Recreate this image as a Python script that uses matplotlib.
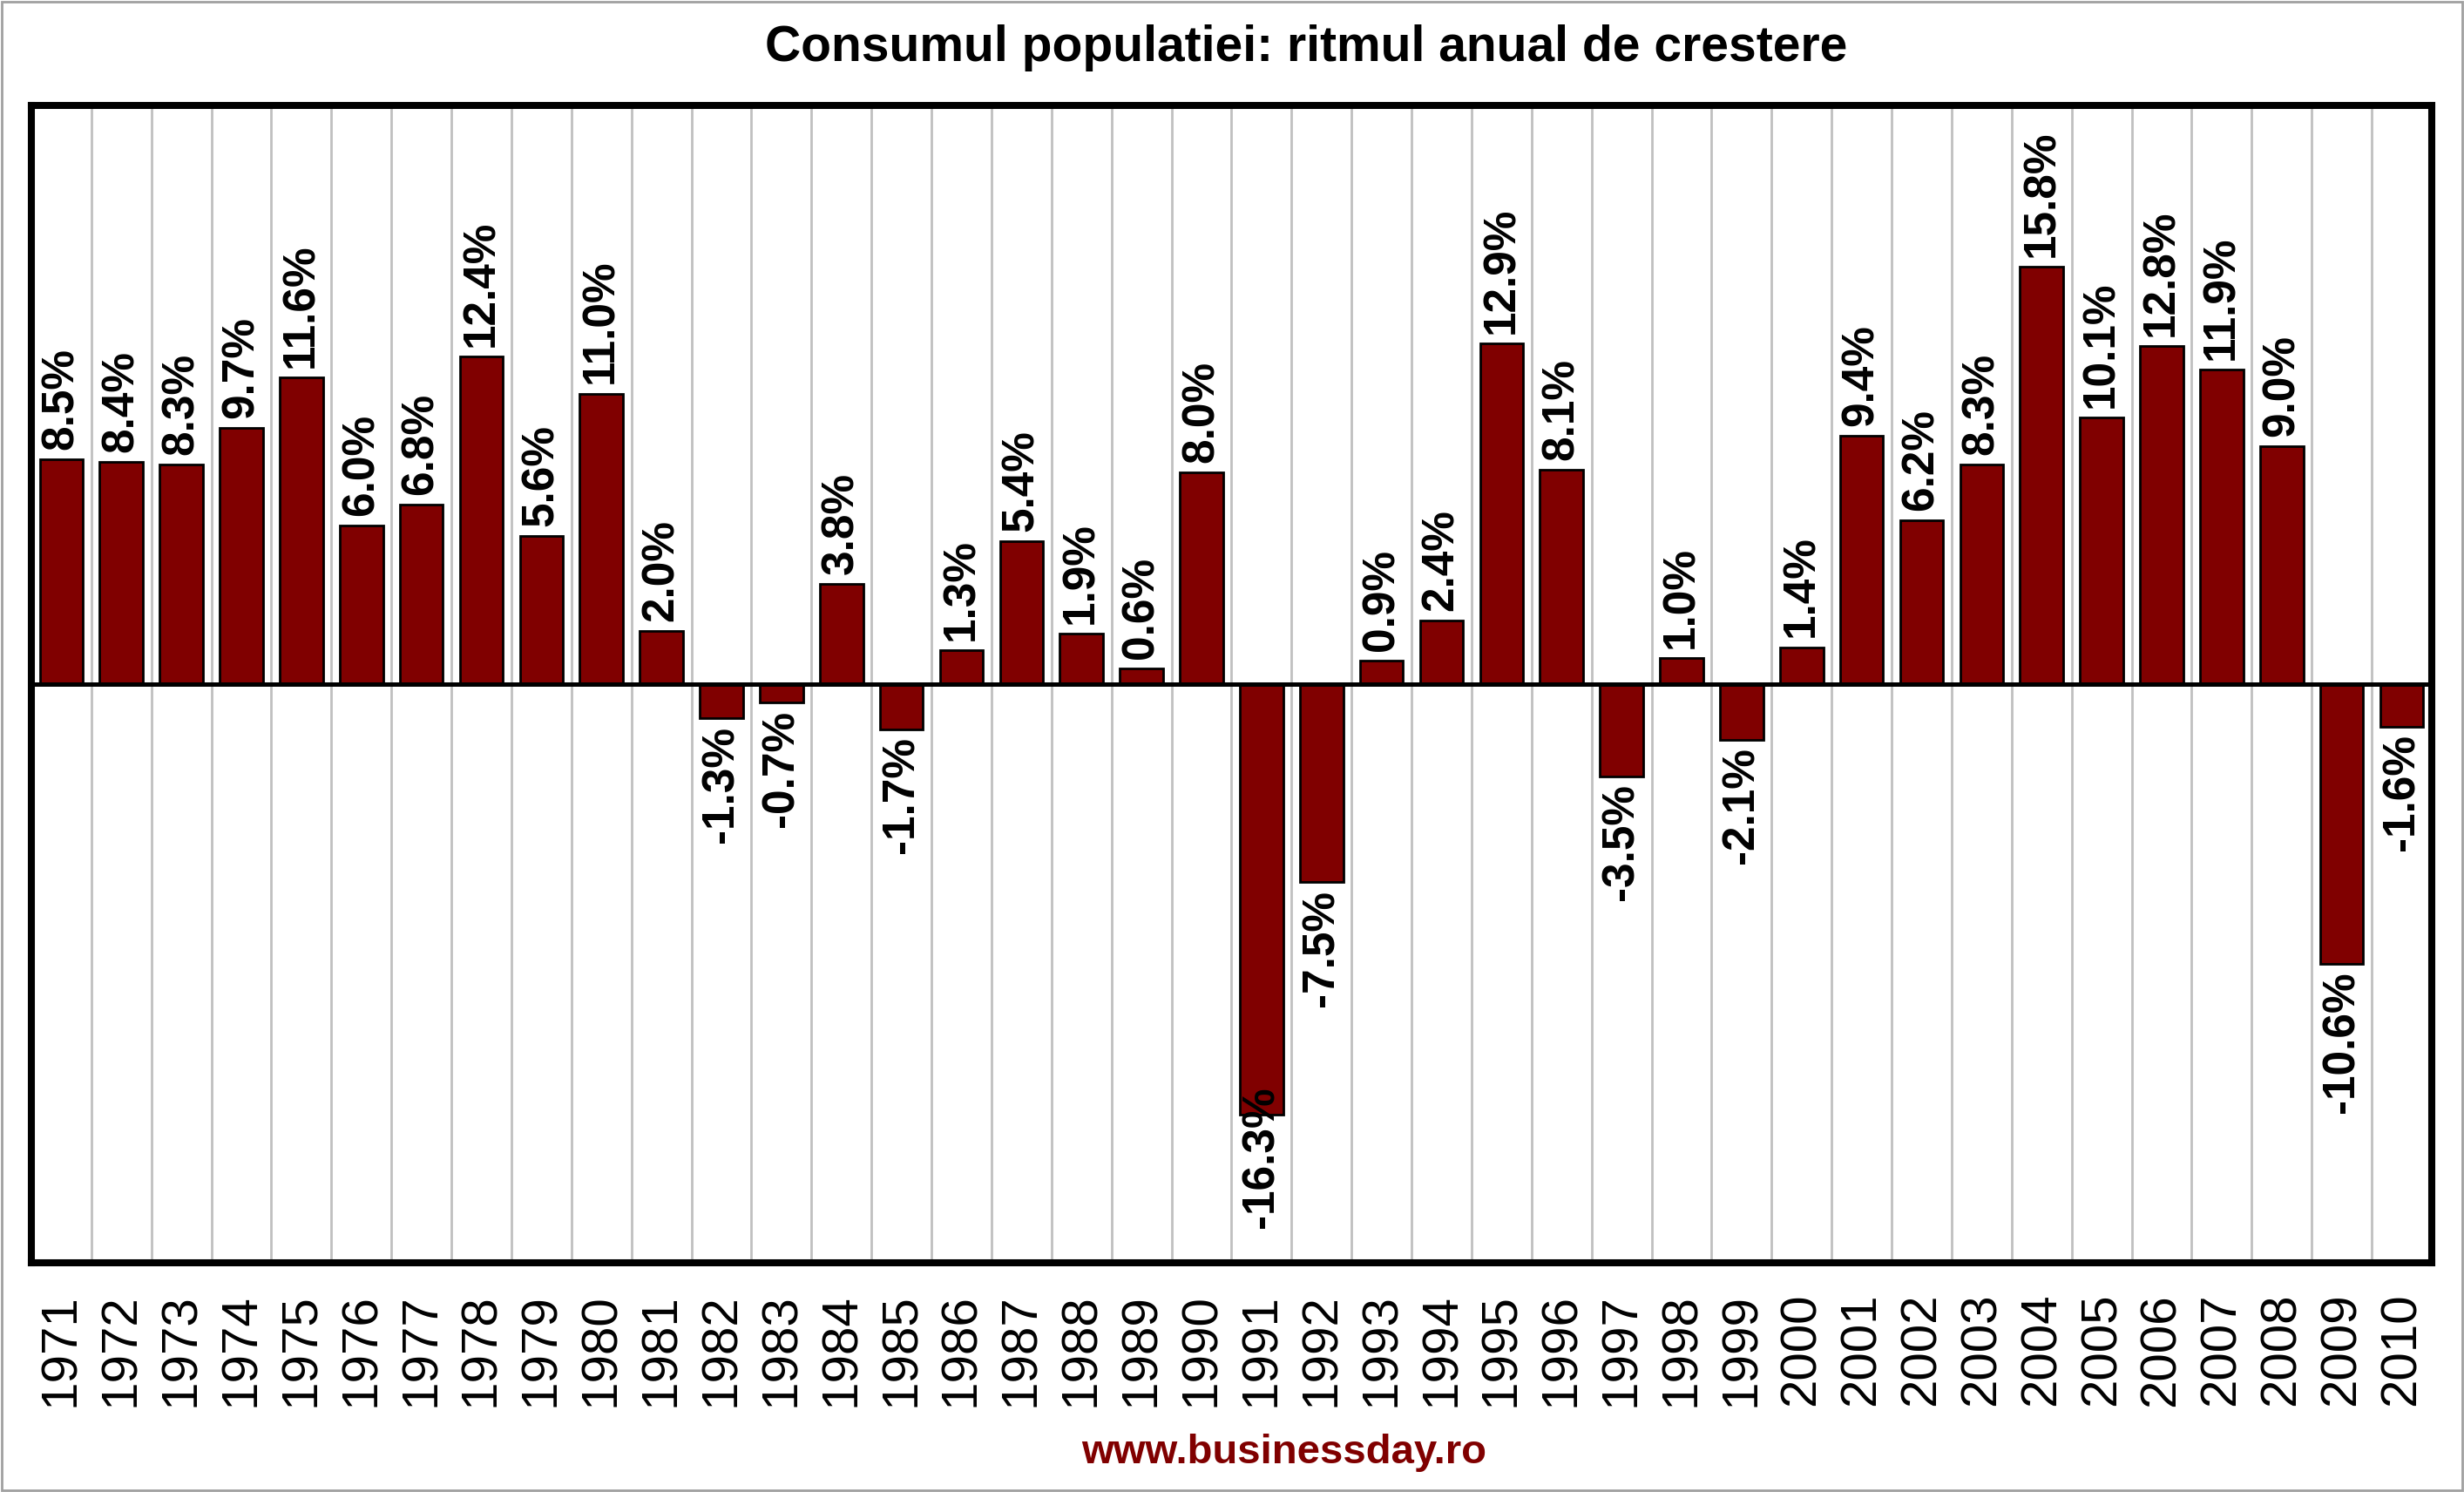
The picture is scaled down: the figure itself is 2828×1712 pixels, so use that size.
import matplotlib
matplotlib.use('Agg')
import matplotlib.pyplot as plt
import numpy as np

plt.rcParams['font.family'] = ['Liberation Sans', 'DejaVu Sans']

years = [str(y) for y in range(1971, 2011)]
growth = [8.5, 8.4, 8.3, 9.7, 11.6, 6.0, 6.8, 12.4, 5.6, 11.0,
          2.0, -1.3, -0.7, 3.8, -1.7, 1.3, 5.4, 1.9, 0.6, 8.0,
          -16.3, -7.5, 0.9, 2.4, 12.9, 8.1, -3.5, 1.0, -2.1, 1.4,
          9.4, 6.2, 8.3, 15.8, 10.1, 12.8, 11.9, 9.0, -10.6, -1.6]
title = 'Consumul populatiei: ritmul anual de crestere'
source = 'www.businessday.ro'

bar_color = '#800000'
dpi = 200

fig = plt.figure(figsize=(14.14, 8.56), dpi=dpi)
ax = fig.add_axes([0.0127, 0.1536, 0.9742, 0.7757])

x = np.arange(len(years))
ax.bar(x, growth, width=0.72, color=bar_color, edgecolor='black',
       linewidth=1.0, zorder=3)

# vertical separators between categories
for b in np.arange(len(years) - 1) + 0.5:
    ax.axvline(b, color='#c0c0c0', linewidth=1.0, zorder=1)

ax.axhline(0, color='black', linewidth=1.8, zorder=4)

neg_labels = []
for xi, v in zip(x, growth):
    if v >= 0:
        ax.annotate(f'{v:.1f}%', (xi, v), xytext=(0, 4),
                    textcoords='offset points', rotation=90,
                    ha='center', va='bottom', fontsize=18.5,
                    fontweight='bold', zorder=5)
    else:
        t = ax.annotate(f'{v:.1f}%', (xi, v), xytext=(0, -3),
                        textcoords='offset points', rotation=90,
                        ha='center', va='top', fontsize=18.5,
                        fontweight='bold', zorder=5)
        neg_labels.append(t)

ax.set_xlim(-0.5, len(years) - 0.5)
ax.set_ylim(-21.9, 21.9)
ax.set_yticks([])
ax.set_xticks(x)
ax.set_xticklabels(years, rotation=90, fontsize=21)
ax.tick_params(axis='x', length=0, pad=12.5)

for s in ax.spines.values():
    s.set_linewidth(2.9)
    s.set_color('black')

fig.text(0.530, 0.968, title, ha='center', va='center',
         fontsize=20.5, fontweight='bold')
fig.text(0.521, 0.026, source, ha='center', va='center',
         fontsize=17, fontweight='bold', color=bar_color)

# keep labels of deep negative bars inside the plot area
fig.canvas.draw()
r = fig.canvas.get_renderer()
ax_bottom = ax.get_window_extent(r).y0
for t in neg_labels:
    bb = t.get_window_extent(r)
    limit = ax_bottom + 40
    if bb.y0 < limit:
        dx, dy = t.xyann
        t.xyann = (dx, dy + (limit - bb.y0) * 72 / dpi)

# thin grey frame around the whole picture
fig.patches.append(plt.Rectangle((0.0008, 0.0012), 0.9984, 0.9976,
                                 transform=fig.transFigure, fill=False,
                                 edgecolor='#a0a0a0', linewidth=1.0))

fig.savefig('out.png', dpi=dpi)
